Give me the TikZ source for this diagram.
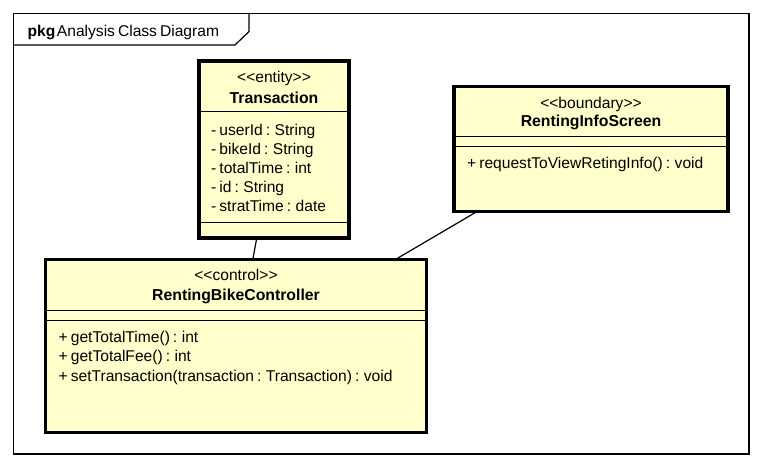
\documentclass[tikz,border=0pt]{standalone}
\usepackage{fontspec}
\setmainfont[WordSpace=0.7]{Liberation Sans}
\usetikzlibrary{calc}
\definecolor{boxfill}{RGB}{255,255,204}
\tikzset{
  umlbox/.style={draw=black, line width=3.5pt, fill=boxfill, inner sep=0pt, outer sep=0pt, anchor=north west},
  sepline/.style={draw=black, line width=1pt},
  stereo/.style={inner sep=0pt, anchor=base, font=\fontsize{15.6}{18}\selectfont},
  cname/.style={inner sep=0pt, anchor=base, font=\fontsize{15.8}{18}\selectfont\bfseries},
  member/.style={inner sep=0pt, anchor=base west, font=\fontsize{15.6}{18}\selectfont},
  link/.style={draw=black, line width=1.2pt},
  framebox/.style={draw=black, line width=1.2pt}
}
\begin{document}
\begin{tikzpicture}[x=1pt,y=-1pt]
\useasboundingbox (0,0) rectangle (762,466);
% frame
\draw[framebox] (13.5,13.5) rectangle (749,454);
\draw[framebox] (13.5,45) -- (235,45) -- (249,31.5) -- (249,13.5);
\node[member] (ftitle) at (27.5,36.7) {\textbf{pkg}\hspace{1.5pt}Analysis Class Diagram};

% Transaction
\node[umlbox, minimum width=150pt, minimum height=177pt] (trans) at (199,61) {};
\draw[sepline] (199,111.7) -- (349,111.7);
\draw[sepline] (199,222.7) -- (349,222.7);
\node[stereo] (transst) at (274,82.3) {<{}<entity>{}>};
\node[cname] (transnm) at (274,103.3) {Transaction};
\node[member] (ta1) at (211,135) {- userId : String};
\node[member] (ta2) at (211,154.2) {- bikeId : String};
\node[member] (ta3) at (211,173.4) {- totalTime : int};
\node[member] (ta4) at (211,192.6) {- id : String};
\node[member] (ta5) at (211,211.8) {- stratTime : date};

% RentingInfoScreen
\node[umlbox, minimum width=274pt, minimum height=125.4pt] (info) at (454,86.3) {};
\draw[sepline] (454,136.7) -- (728,136.7);
\draw[sepline] (454,146.7) -- (728,146.7);
\node[stereo] (infost) at (591,108.3) {<{}<boundary>{}>};
\node[cname] (infonm) at (591,126.7) {RentingInfoScreen};
\node[member] (io1) at (467,168.3) {+ requestToViewRetingInfo() : void};

% RentingBikeController
\node[umlbox, minimum width=381.4pt, minimum height=172.6pt] (ctrl) at (45.3,259.7) {};
\draw[sepline] (45.3,310.3) -- (426.7,310.3);
\draw[sepline] (45.3,320) -- (426.7,320);
\node[stereo] (ctrlst) at (236,280.7) {<{}<control>{}>};
\node[cname] (ctrlnm) at (236,300.7) {RentingBikeController};
\node[member] (co1) at (58.5,342) {+ getTotalTime() : int};
\node[member] (co2) at (58.5,361.5) {+ getTotalFee() : int};
\node[member] (co3) at (58.5,381) {+ setTransaction(transaction : Transaction) : void};

% associations
\draw[link] ($(trans.south west)!0.385!(trans.south east)$) -- ($(ctrl.north west)!0.544!(ctrl.north east)$);
\draw[link] ($(info.south west)!0.083!(info.south east)$) -- ($(ctrl.north west)!0.917!(ctrl.north east)$);
\end{tikzpicture}
\end{document}
